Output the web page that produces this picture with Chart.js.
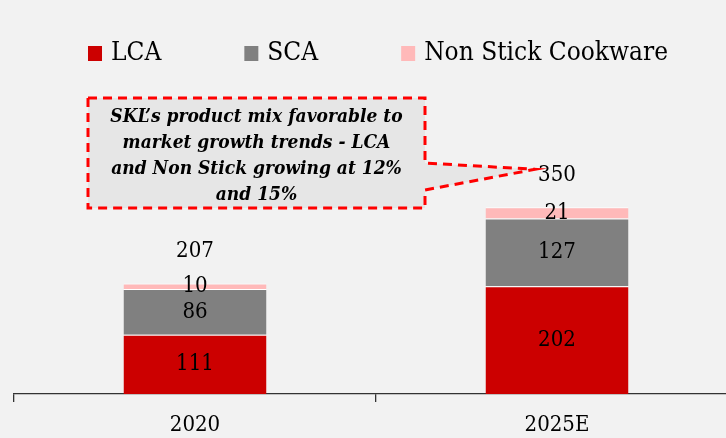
<!DOCTYPE html>
<html>
<head>
<meta charset="utf-8">
<script src="https://cdn.jsdelivr.net/npm/chart.js@4.4.1/dist/chart.umd.min.js"></script>
<style>
html, body { margin: 0; padding: 0; background: #f2f2f2; }
#wrap { width: 726px; height: 438px; position: relative; }
</style>
</head>
<body>
<div id="wrap"><canvas id="mixChart"></canvas></div>
<script>
const years = ["2020", "2025E"];
const lcaValues = [111, 202];
const scaValues = [86, 127];
const nonStickValues = [10, 21];
const calloutLines = [
    "SKL\u2019s product mix favorable to",
    "market growth trends - LCA",
    "and Non Stick growing at 12%",
    "and 15%"
];

const FONT = "'DejaVu Serif Condensed', 'DejaVu Serif', serif";

// legend row at the top (wide gaps between items)
const topLegend = {
    id: "topLegend",
    afterDraw(chart) {
        const ctx = chart.ctx;
        ctx.save();
        ctx.font = "26px " + FONT;
        ctx.textBaseline = "middle";
        ctx.textAlign = "left";
        const box = 14, gap = 9, space = 83;
        const items = chart.data.datasets.map(ds => ({
            text: ds.label,
            color: ds.backgroundColor,
            w: box + gap + ctx.measureText(ds.label).width
        }));
        const total = items.reduce((s, it) => s + it.w, 0) + space * (items.length - 1);
        let x = 378 - total / 2;
        items.forEach(it => {
            ctx.fillStyle = it.color;
            ctx.fillRect(x, 46, box, 15);
            ctx.fillStyle = "#000";
            ctx.fillText(it.text, x + box + gap, 53);
            x += it.w + space;
        });
        ctx.restore();
    }
};

// numbers inside segments + totals on top
const barLabels = {
    id: "barLabels",
    afterDatasetsDraw(chart) {
        const ctx = chart.ctx;
        ctx.save();
        ctx.font = "22px " + FONT;
        ctx.fillStyle = "#000";
        ctx.textAlign = "center";
        ctx.textBaseline = "middle";
        chart.data.datasets.forEach((ds, di) => {
            chart.getDatasetMeta(di).data.forEach((bar, i) => {
                ctx.fillText(ds.data[i], bar.x, (bar.y + bar.base) / 2);
            });
        });
        const last = chart.getDatasetMeta(chart.data.datasets.length - 1);
        last.data.forEach((bar, i) => {
            const total = chart.data.datasets.reduce((s, ds) => s + ds.data[i], 0);
            ctx.fillText(total, bar.x, bar.y - 32);
        });
        ctx.restore();
    }
};

// dashed callout pointing at the 2025E total
const callout = {
    id: "callout",
    afterDraw(chart) {
        const ctx = chart.ctx;
        const bar = chart.getDatasetMeta(2).data[1];
        const tipX = bar.x - 22, tipY = bar.y - 38;
        const left = 88, right = 425, top = 98, bottom = 208;

        ctx.save();
        ctx.beginPath();
        ctx.moveTo(left, top);
        ctx.lineTo(right, top);
        ctx.lineTo(right, 163);
        ctx.lineTo(tipX, tipY);
        ctx.lineTo(right, 190);
        ctx.lineTo(right, bottom);
        ctx.lineTo(left, bottom);
        ctx.closePath();
        ctx.fillStyle = "#e6e6e6";
        ctx.fill();
        ctx.setLineDash([9, 6]);
        ctx.lineWidth = 3;
        ctx.strokeStyle = "#ff0000";
        ctx.stroke();

        ctx.setLineDash([]);
        ctx.fillStyle = "#000";
        ctx.font = "italic bold 19px " + FONT;
        ctx.textAlign = "center";
        ctx.textBaseline = "middle";
        calloutLines.forEach((line, i) => {
            ctx.fillText(line, (left + right) / 2, 117 + i * 26);
        });
        ctx.restore();
    }
};

// the category axis runs a little past the right edge of the picture
const bleedRight = {
    id: "bleedRight",
    afterLayout(chart) {
        const x = chart.scales.x;
        x.right = 738;
        x.width = x.right - x.left;
        chart.chartArea.right = 738;
        chart.chartArea.width = chart.chartArea.right - chart.chartArea.left;
        x.configure();
    }
};

const ctx = document.getElementById("mixChart").getContext("2d");

new Chart(ctx, {
    type: "bar",
    data: {
        labels: years,
        datasets: [
            { label: "LCA", data: lcaValues, backgroundColor: "#cc0000" },
            { label: "SCA", data: scaValues, backgroundColor: "#808080" },
            { label: "Non Stick Cookware", data: nonStickValues, backgroundColor: "#ffb9b9" }
        ].map(ds => ({
            ...ds,
            borderColor: "#ffffff",
            borderWidth: { top: 1, left: 0, right: 0, bottom: 0 },
            borderSkipped: false,
            categoryPercentage: 1,
            barPercentage: 0.395
        }))
    },
    options: {
        responsive: true,
        maintainAspectRatio: false,
        animation: false,
        devicePixelRatio: 1,
        layout: {
            padding: { top: 74, left: 14, right: 0, bottom: 0 }
        },
        plugins: {
            legend: { display: false },
            tooltip: { enabled: false }
        },
        scales: {
            x: {
                stacked: true,
                border: { display: true, color: "#333", width: 1.3 },
                grid: {
                    offset: true,
                    drawOnChartArea: false,
                    drawTicks: true,
                    tickLength: 8,
                    color: "#333",
                    lineWidth: 1.3
                },
                ticks: {
                    color: "#000",
                    padding: 10,
                    font: { family: FONT, size: 22 }
                },
                afterFit(scale) {
                    scale.height = 44;
                }
            },
            y: {
                stacked: true,
                display: false,
                min: 0,
                max: 600
            }
        }
    },
    plugins: [bleedRight, barLabels, callout, topLegend]
});
</script>
</body>
</html>
